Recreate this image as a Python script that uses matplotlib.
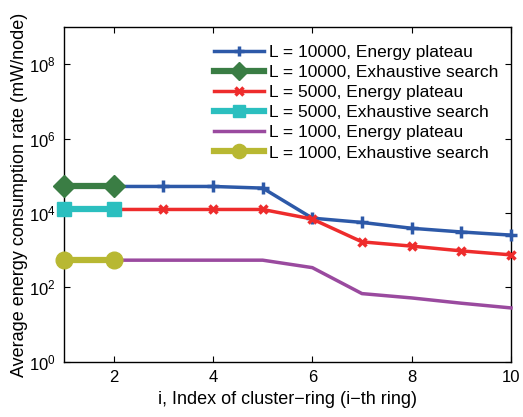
import matplotlib.pyplot as plt

# Data
ring = [1, 2, 3, 4, 5, 6, 7, 8, 9, 10]
ring_exh = [1, 2]

plateau_10000 = [5.2e4, 5.2e4, 5.2e4, 5.2e4, 4.7e4, 7.3e3, 5.6e3, 3.9e3, 3.1e3, 2.55e3]
plateau_5000 = [1.25e4, 1.25e4, 1.25e4, 1.25e4, 1.25e4, 6.9e3, 1.68e3, 1.29e3, 9.6e2, 7.5e2]
plateau_1000 = [540, 540, 540, 540, 540, 340, 68, 52, 37.5, 28]

exhaustive_10000 = [5.2e4, 5.2e4]
exhaustive_5000 = [1.25e4, 1.25e4]
exhaustive_1000 = [540, 540]

plt.rcParams['font.family'] = ['Liberation Sans', 'DejaVu Sans']

fig = plt.figure(figsize=(5.23, 4.17), dpi=100)
ax = fig.add_axes([0.1224, 0.1326, 0.8546, 0.802])

ax.plot(ring, plateau_10000, color='#2d59a8', lw=2.5, marker='+', ms=9, mew=2.5,
        label='L = 10000, Energy plateau', clip_on=False, zorder=3)
ax.plot(ring_exh, exhaustive_10000, color='#3a7d44', lw=4.5, marker='D', ms=11,
        label='L = 10000, Exhaustive search', clip_on=False, zorder=4)
ax.plot(ring, plateau_5000, color='#ee2c2c', lw=2.5, marker='x', ms=6, mew=2.5,
        label='L = 5000, Energy plateau', clip_on=False, zorder=3)
ax.plot(ring_exh, exhaustive_5000, color='#2bbfbf', lw=4.5, marker='s', ms=10,
        label='L = 5000, Exhaustive search', clip_on=False, zorder=4)
ax.plot(ring, plateau_1000, color='#9a4a9f', lw=2.5,
        label='L = 1000, Energy plateau', clip_on=False, zorder=3)
ax.plot(ring_exh, exhaustive_1000, color='#b8b832', lw=4.5, marker='o', ms=12,
        label='L = 1000, Exhaustive search', clip_on=False, zorder=4)

ax.set_yscale('log')
ax.set_xlim(1, 10)
ax.set_ylim(1, 1e9)
ax.set_xticks([2, 4, 6, 8, 10])
ax.set_yticks([1e0, 1e2, 1e4, 1e6, 1e8])
ax.minorticks_off()
ax.tick_params(direction='in', top=True, right=True, labelsize=12, length=4, pad=6)
for s in ax.spines.values():
    s.set_linewidth(1.0)

ax.set_xlabel('i, Index of cluster\u2212ring (i\u2212th ring)', fontsize=13)
ax.set_ylabel('Average energy consumption rate (mW/node)', fontsize=13, labelpad=1)

leg = ax.legend(loc='upper right', bbox_to_anchor=(1.0, 0.985), fontsize=12.5,
                frameon=False, handlelength=2.9, handletextpad=0.3,
                labelspacing=0.29, borderaxespad=0.3, markerscale=0.85)

plt.savefig('out.png', dpi=100)
